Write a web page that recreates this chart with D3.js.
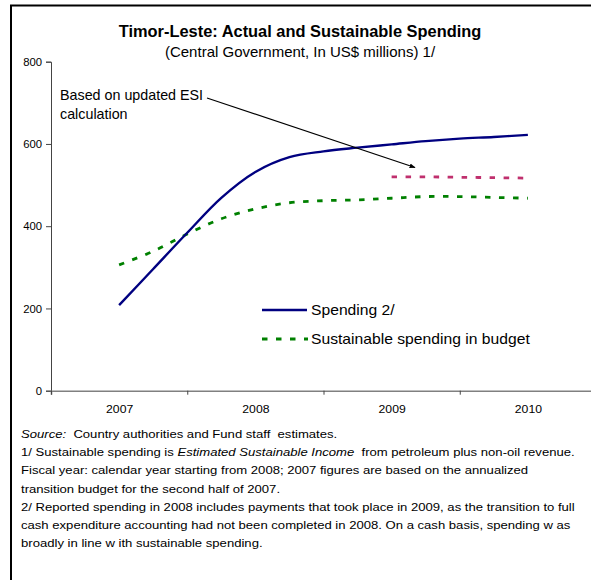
<!DOCTYPE html>
<html>
<head>
<meta charset="utf-8">
<script src="https://cdn.jsdelivr.net/npm/d3@7"></script>
<style>
  html, body { margin: 0; padding: 0; background: #fff; }
  svg { display: block; font-family: "Liberation Sans", Arial, sans-serif; }
  text { white-space: pre; }
</style>
</head>
<body>
<svg id="chart" width="591" height="580"></svg>
<script>
// ---- data ----
const years = [2007, 2008, 2009, 2010];
const periods = [2007, 2007.25, 2007.5, 2007.75, 2008, 2008.25, 2008.5, 2008.75, 2009, 2009.25, 2009.5, 2009.75, 2010];
const spending = [208, 296, 384, 469, 532, 568, 582, 591, 599, 607, 613, 617, 622];
const sustainable = [306, 339, 381, 418, 442, 457, 462, 464, 468, 472, 472, 470, 468];
const esiPeriods = [2009, 2009.25, 2009.5, 2009.75, 2010];
const esiUpdated = [520, 520, 519, 518, 517];
const yTicks = [0, 200, 400, 600, 800];

const title = "Timor-Leste: Actual and Sustainable Spending";
const subtitle = "(Central Government, In US$ millions) 1/";
const legendLabels = ["Spending 2/", "Sustainable spending in budget"];
const annotation = ["Based on updated ESI", "calculation"];

const svg = d3.select("#chart");

function label(sel, x, y, size, txt, opts = {}) {
  const sx = opts.sx || 1;
  const t = sel.append("text")
    .attr("transform", `translate(${x},${y}) scale(${sx},1)`)
    .attr("font-size", size)
    .attr("text-anchor", opts.anchor || "start");
  if (opts.bold) t.attr("font-weight", "bold");
  if (txt !== null) t.text(txt);
  return t;
}

// frame (extends past right and bottom edges)
svg.append("rect").attr("x", 11).attr("y", 5.5).attr("width", 700).attr("height", 700)
  .attr("fill", "none").attr("stroke", "#000").attr("stroke-width", 2);

const x = d3.scaleLinear().domain([2006.5, 2010.5]).range([51, 596]);
const y = d3.scaleLinear().domain([0, 800]).range([390.7, 61.7]);

// title
label(svg, 300, 37, 16.4, title, { anchor: "middle", bold: true });
label(svg, 300, 57, 15, subtitle, { anchor: "middle" });

// y axis
const yAxis = svg.append("g").attr("transform", `translate(${x(2006.5)},0)`)
  .call(d3.axisLeft(y).tickValues(yTicks).tickSize(5).tickPadding(4));
yAxis.select(".domain").attr("stroke", "#444").attr("stroke-width", 1);
yAxis.selectAll(".tick line").attr("stroke", "#444");
yAxis.selectAll("text").attr("font-size", 11.3).attr("fill", "#000")
  .attr("font-family", "Liberation Sans, Arial, sans-serif");

// x axis: category boundary ticks + labels at centres
const xAxis = svg.append("g").attr("transform", `translate(0,${y(0)})`)
  .call(d3.axisBottom(x).tickValues([2006.5, 2007.5, 2008.5, 2009.5]).tickSize(4).tickFormat(""));
xAxis.select(".domain").attr("stroke", "#808080").attr("stroke-width", 1.6);
xAxis.selectAll(".tick line").attr("stroke", "#444");
const xLab = svg.append("g").attr("transform", `translate(0,${y(0)})`)
  .call(d3.axisBottom(x).tickValues(years).tickSize(0).tickPadding(14).tickFormat(d3.format("d")));
xLab.select(".domain").remove();
xLab.selectAll("text").attr("font-size", 11.3).attr("fill", "#000")
  .attr("font-family", "Liberation Sans, Arial, sans-serif")
  .attr("transform", "scale(1.08,1)");

// lines
const line = d3.line().x(d => x(d[0])).y(d => y(d[1])).curve(d3.curveCatmullRom.alpha(0.5));
svg.append("path").datum(periods.map((p, i) => [p, sustainable[i]]))
  .attr("d", line).attr("fill", "none").attr("stroke", "#008000")
  .attr("stroke-width", 2.8).attr("stroke-dasharray", "5.5,8.5");
svg.append("path").datum(esiPeriods.map((p, i) => [p, esiUpdated[i]]))
  .attr("d", line).attr("fill", "none").attr("stroke", "#C0306E")
  .attr("stroke-width", 2.8).attr("stroke-dasharray", "5.5,8.5");
svg.append("path").datum(periods.map((p, i) => [p, spending[i]]))
  .attr("d", line).attr("fill", "none").attr("stroke", "#000080")
  .attr("stroke-width", 2.4);

// annotation
label(svg, 60, 100, 14.3, annotation[0]);
label(svg, 60, 119, 14.3, annotation[1]);
const defs = svg.append("defs");
defs.append("marker").attr("id", "arr").attr("viewBox", "0 0 10 10").attr("refX", 9).attr("refY", 5)
  .attr("markerWidth", 5).attr("markerHeight", 5).attr("orient", "auto")
  .append("path").attr("d", "M0,1 L10,5 L0,9 z").attr("fill", "#000");
svg.append("line").attr("x1", 207).attr("y1", 98).attr("x2", 415).attr("y2", 167.5)
  .attr("stroke", "#000").attr("stroke-width", 1.2).attr("marker-end", "url(#arr)");

// legend
const lg = svg.append("g");
lg.append("line").attr("x1", 262).attr("x2", 307).attr("y1", 310).attr("y2", 310)
  .attr("stroke", "#000080").attr("stroke-width", 2.4);
lg.append("line").attr("x1", 262).attr("x2", 308).attr("y1", 339).attr("y2", 339)
  .attr("stroke", "#008000").attr("stroke-width", 2.8).attr("stroke-dasharray", "5.5,8.5");
label(lg, 311, 315, 14, legendLabels[0], { sx: 1.12 });
label(lg, 311, 344, 14, legendLabels[1], { sx: 1.12 });

// footnotes
const notes = svg.append("g");
const fx = 21, fy0 = 438, fdy = 18.2, fs = 11.7, fsx = 1.12;
let t = label(notes, fx, fy0, fs, null, { sx: fsx });
t.append("tspan").attr("font-style", "italic").text("Source:");
t.append("tspan").text("  Country authorities and Fund staff  estimates.");
t = label(notes, fx, fy0 + fdy, fs, null, { sx: fsx });
t.append("tspan").text("1/ Sustainable spending is ");
t.append("tspan").attr("font-style", "italic").text("Estimated Sustainable Income ");
t.append("tspan").text(" from petroleum plus non-oil revenue.");
const plain = [
  "Fiscal year: calendar year starting from 2008; 2007 figures are based on the annualized",
  "transition budget for the second half of 2007.",
  "2/ Reported spending in 2008 includes payments that took place in 2009, as the transition to full",
  "cash expenditure accounting had not been completed in 2008. On a cash basis, spending w as",
  "broadly in line w ith sustainable spending."
];
plain.forEach((s, i) => label(notes, fx, fy0 + fdy * (i + 2), fs, s, { sx: fsx }));
</script>
</body>
</html>
